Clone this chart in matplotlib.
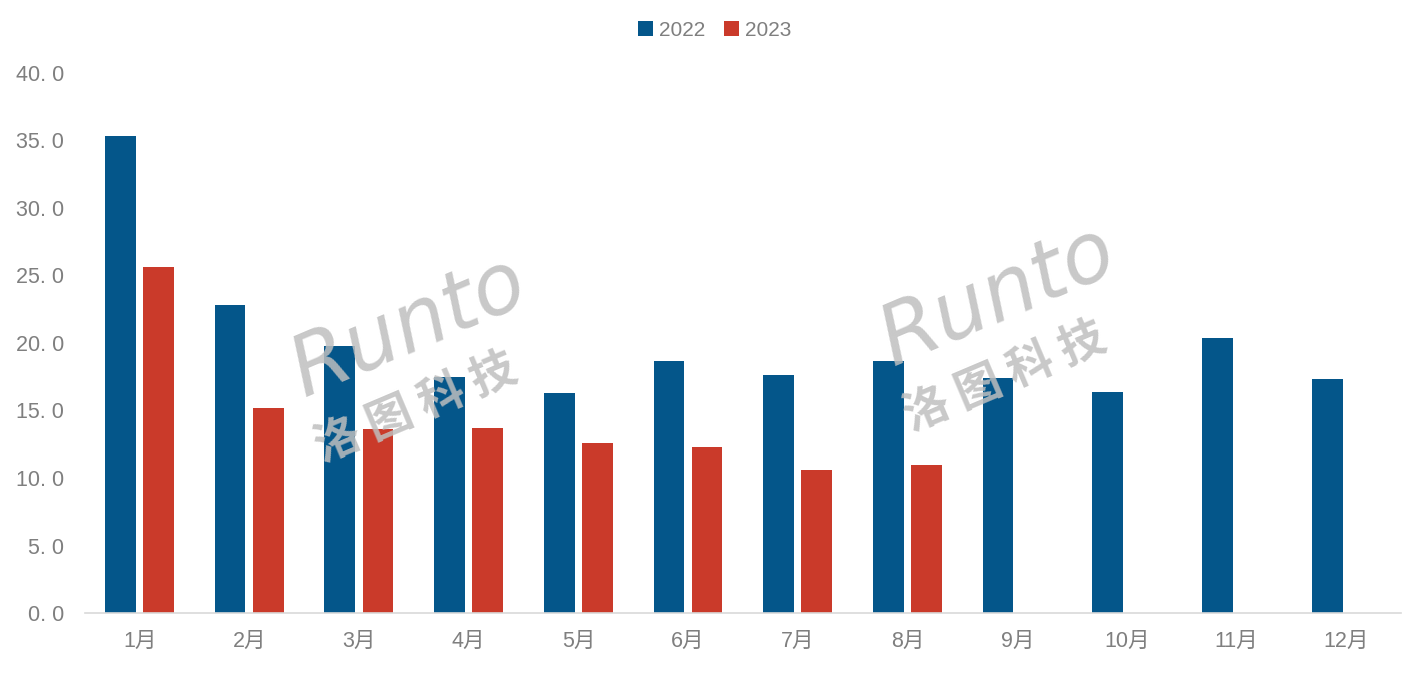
import matplotlib
matplotlib.use("Agg")
import matplotlib.pyplot as plt
import numpy as np

plt.rcParams['font.family'] = ['Liberation Sans', 'Noto Sans CJK SC', 'DejaVu Sans']

months = ["1月", "2月", "3月", "4月", "5月", "6月", "7月", "8月", "9月", "10月", "11月", "12月"]
v2022 = [35.3, 22.8, 19.8, 17.5, 16.3, 18.7, 17.6, 18.7, 17.4, 16.4, 20.4, 17.3]
v2023 = [25.6, 15.2, 13.6, 13.7, 12.6, 12.3, 10.6, 11.0]
yticks = [0, 5, 10, 15, 20, 25, 30, 35, 40]

blue = "#04568A"
red = "#CA3A2A"
gray = "#7F7F7F"

fig = plt.figure(figsize=(14.24, 6.74), dpi=100)
ax = fig.add_axes([0.0595, 0.0905, 0.9245, 0.8012])

x = np.arange(len(months))
w = 0.28
ax.bar(x - 0.175, v2022, width=w, color=blue, label="2022", zorder=2)
ax.bar(np.arange(len(v2023)) + 0.172, v2023, width=w, color=red, label="2023", zorder=2)

ax.set_xlim(-0.5, len(months) - 0.5)
ax.set_ylim(0, 40)
ax.set_yticks(yticks)
ax.set_yticklabels([f"{t:.1f}".replace(".", ". ") for t in yticks], fontsize=15.5, color=gray)
ax.set_xticks(x)
ax.set_xticklabels(months, fontsize=15.5, color=gray)
ax.tick_params(axis='both', length=0)
ax.tick_params(axis='y', pad=15)
ax.tick_params(axis='x', pad=13)
for s in ["top", "right", "left"]:
    ax.spines[s].set_visible(False)
ax.spines["bottom"].set_color("#D9D9D9")
ax.spines["bottom"].set_linewidth(1.2)

leg = fig.legend(loc="center", bbox_to_anchor=(0.502, 0.955), ncol=2, frameon=False,
                 fontsize=15, handlelength=0.7, handleheight=0.7, handletextpad=0.3,
                 columnspacing=0.9)
for t in leg.get_texts():
    t.set_color(gray)

# watermarks
for (xr, yr) in [(0.287, 0.515), (0.701, 0.56)]:
    fig.text(xr, yr, "Runto", fontsize=60, style="italic", color="#BFBFBF", alpha=0.85,
             rotation=23, ha="center", va="center", family=["DejaVu Sans"], zorder=10)
    fig.text(xr + 0.005, yr - 0.12, "洛 图 科 技", fontsize=33, weight="bold", color="#BFBFBF",
             alpha=0.85, rotation=23, ha="center", va="center",
             family=["Noto Sans CJK SC"], zorder=10)

fig.savefig("out.png", dpi=100)
